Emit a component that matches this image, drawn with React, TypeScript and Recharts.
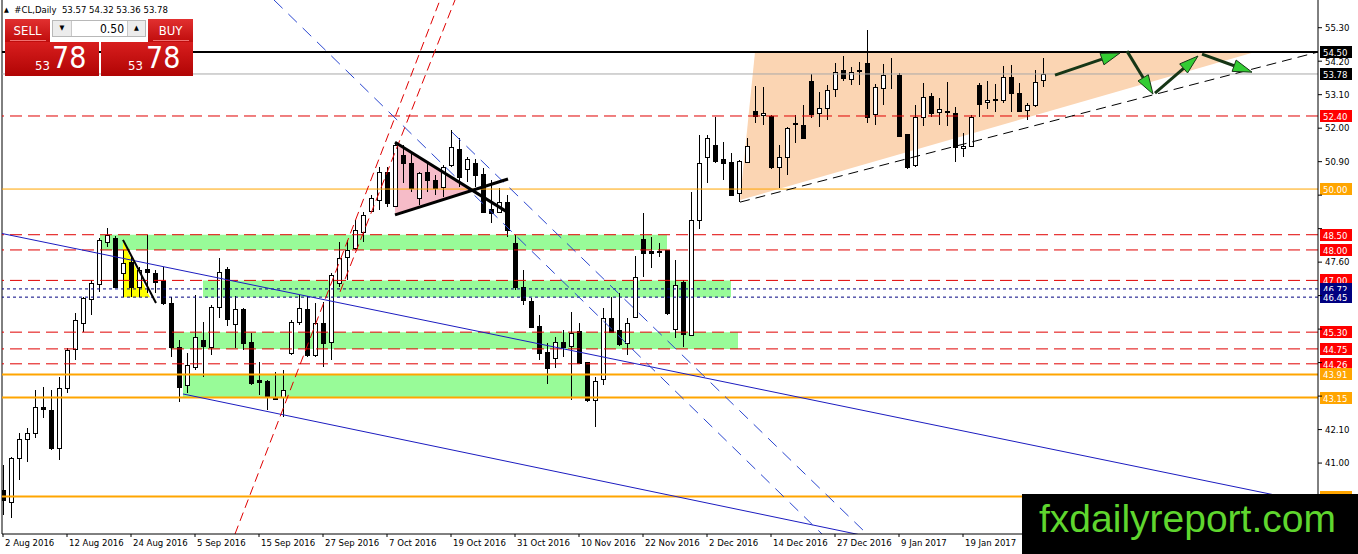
import React from "react";
import {
  ComposedChart,
  Bar,
  XAxis,
  YAxis,
  ReferenceLine,
  ReferenceArea,
} from "recharts";

const FONT = "'DejaVu Sans Condensed', 'Liberation Sans', sans-serif";
const AXIS_FS = 9.5;

// daily candles, 2 Aug 2016 .. 2 Feb 2017 (bar index = trading day)
const opens = [
  40.11, 39.72, 41.15, 41.79, 41.99, 42.84, 42.74, 41.49, 43.46, 44.75,
  45.6, 46.39, 46.88, 48.26, 48.39, 47.24, 47.6, 46.78, 47.37, 47.24,
  46.98, 46.26, 44.81, 43.56, 44.15, 45.04, 44.81, 46.13, 47.37, 45.57,
  46.06, 44.98, 43.73, 43.69, 43.1, 43.17, 44.61, 45.63, 46.06, 44.55,
  45.6, 44.98, 46.91, 47.77, 48.06, 48.59, 49.28, 49.64, 50.56, 49.44,
  51.12, 50.85, 49.7, 50.56, 50.3, 50.07, 50.79, 51.31, 50.66, 50.85,
  50.49, 49.34, 49.25, 49.57, 48.23, 46.78, 46.32, 45.5, 44.65, 44.45,
  44.98, 44.84, 45.34, 44.32, 43.07, 43.76, 45.76, 45.37, 44.94, 45.8,
  48.36, 47.96, 47.96, 48.0, 45.4, 46.95, 45.2, 48.98, 51.05, 51.44,
  50.99, 50.89, 49.87, 50.89, 52.56, 52.43, 52.4, 50.72, 51.05, 52.17,
  52.1, 53.55, 52.5, 52.66, 53.28, 53.91, 53.61, 53.87, 54.14, 52.46,
  53.32, 53.68, 53.74, 51.81, 50.79, 52.36, 53.05, 52.53, 52.53, 52.5,
  51.35, 51.41, 53.42, 52.86, 52.92, 52.92, 53.68, 53.15, 52.59, 52.76,
  53.57,
];
const highs = [
  40.94, 41.2, 41.99, 42.15, 43.4, 43.5, 43.4, 43.83, 44.78, 45.93,
  46.45, 47.01, 48.4, 48.72, 48.45, 48.0, 47.77, 47.44, 48.49, 47.34,
  47.44, 46.45, 45.04, 44.61, 46.52, 45.63, 46.19, 47.73, 47.45, 46.49,
  46.09, 45.27, 44.32, 43.73, 43.99, 44.06, 45.7, 46.52, 46.49, 46.26,
  46.29, 47.25, 48.26, 48.33, 48.98, 49.25, 49.8, 50.72, 50.72, 51.54,
  51.44, 51.18, 50.56, 50.89, 50.46, 50.79, 51.94, 51.67, 51.05, 50.99,
  50.69, 50.3, 50.03, 49.8, 48.49, 47.34, 46.42, 45.86, 44.94, 45.14,
  45.37, 45.96, 45.6, 44.32, 43.83, 46.09, 46.45, 46.58, 45.76, 47.8,
  49.21, 48.42, 48.23, 48.0, 47.67, 47.01, 49.9, 51.77, 51.77, 52.36,
  51.54, 51.18, 50.95, 51.67, 53.38, 53.35, 52.43, 51.44, 52.04, 52.43,
  52.76, 53.78, 53.19, 53.42, 54.14, 54.37, 54.01, 54.17, 55.22, 53.45,
  54.1, 54.3, 53.81, 51.81, 52.76, 53.48, 53.15, 52.99, 53.51, 52.69,
  51.84, 52.43, 53.48, 53.55, 53.45, 54.04, 54.07, 53.48, 52.82, 53.91,
  54.32,
];
const lows = [
  39.29, 39.2, 40.44, 41.04, 41.82, 42.48, 41.43, 41.1, 43.3, 44.38,
  45.3, 45.86, 46.62, 48.1, 46.75, 46.45, 46.45, 46.45, 46.58, 46.58,
  46.19, 44.48, 43.0, 43.3, 44.06, 43.83, 44.55, 45.76, 45.5, 44.78,
  44.71, 43.56, 43.23, 42.74, 43.1, 42.51, 44.55, 45.53, 44.48, 44.48,
  44.15, 44.38, 46.78, 47.01, 48.0, 48.26, 49.25, 49.31, 49.41, 49.41,
  50.2, 49.9, 49.47, 49.9, 49.8, 49.74, 50.72, 50.07, 50.23, 50.07,
  49.25, 48.88, 49.21, 48.42, 46.68, 46.19, 45.43, 44.38, 43.6, 44.12,
  44.48, 43.07, 44.29, 43.0, 42.18, 43.56, 45.27, 44.84, 44.55, 45.76,
  47.11, 47.41, 47.77, 45.86, 45.11, 44.81, 45.17, 48.7, 50.2, 50.85,
  50.3, 49.8, 49.57, 50.85, 52.17, 52.1, 50.66, 50.03, 50.46, 51.51,
  51.67, 52.33, 52.04, 52.27, 53.02, 53.55, 53.42, 53.42, 52.17, 52.1,
  52.76, 53.28, 51.71, 50.66, 50.72, 52.07, 52.36, 52.1, 52.07, 50.89,
  51.05, 51.38, 52.36, 52.63, 52.53, 52.82, 52.53, 52.53, 52.27, 52.69,
  53.36,
];
const closes = [
  39.79, 41.17, 41.79, 41.99, 42.84, 42.77, 41.49, 43.46, 44.71, 45.7,
  46.42, 46.91, 48.33, 48.49, 46.78, 47.57, 46.78, 47.34, 47.27, 46.95,
  46.26, 44.81, 43.5, 44.22, 45.14, 44.84, 46.13, 47.27, 45.73, 46.06,
  44.94, 43.63, 43.66, 43.2, 43.13, 43.4, 45.63, 46.09, 44.55, 45.6,
  44.94, 47.18, 47.73, 48.0, 48.65, 49.15, 49.7, 50.56, 49.54, 51.44,
  50.85, 50.03, 50.53, 50.3, 50.03, 50.72, 51.38, 50.39, 50.99, 50.46,
  49.25, 49.21, 49.57, 48.65, 46.78, 46.35, 45.47, 44.61, 44.12, 44.98,
  44.81, 45.27, 44.29, 43.07, 43.69, 45.76, 45.3, 44.91, 45.6, 47.11,
  47.9, 47.9, 47.93, 45.93, 46.85, 45.24, 48.98, 50.85, 51.67, 50.92,
  50.85, 49.8, 50.92, 51.41, 52.4, 52.5, 50.72, 51.05, 52.0, 52.14,
  51.67, 52.46, 52.66, 53.25, 53.84, 53.65, 53.84, 53.91, 52.36, 53.35,
  53.74, 53.68, 51.74, 50.72, 52.36, 53.02, 52.5, 52.63, 52.56, 51.38,
  51.41, 52.36, 52.79, 52.92, 52.95, 53.68, 53.15, 52.56, 52.76, 53.51,
  53.78,
];

const dateLabels = [
  "2 Aug 2016", "12 Aug 2016", "24 Aug 2016", "5 Sep 2016", "15 Sep 2016",
  "27 Sep 2016", "7 Oct 2016", "19 Oct 2016", "31 Oct 2016", "10 Nov 2016",
  "22 Nov 2016", "2 Dec 2016", "14 Dec 2016", "27 Dec 2016", "9 Jan 2017",
  "19 Jan 2017",
];
const dateTickBars = [0, 8, 16, 24, 32, 40, 48, 56, 64, 72, 80, 88, 96, 104, 112, 120];

const yTicks = [
  55.3, 54.2, 53.1, 52.0, 50.9, 49.8, 48.7, 47.6, 46.5, 45.4, 44.3, 43.2,
  42.1, 41.0, 39.9,
];

// horizontal levels
const resistanceLevel = 54.5;
const lastPrice = 53.78;
const redLevels = [52.4, 48.5, 48.0, 47.0, 45.3, 44.75, 44.26];
const orangeThinLevels = [50.0];
const navyLevels = [46.72, 46.45];
const orangeThickLevels = [43.91, 43.15, 39.9];
const allTagLevels = [
  resistanceLevel, lastPrice, ...redLevels, ...orangeThinLevels,
  ...navyLevels, ...orangeThickLevels,
];

// green zones: [fromBar, toBar] and [lowPrice, highPrice]
const zoneBars = [[12.125, 83], [25, 91], [20.875, 91.875], [22.5, 73.125]];
const zonePrices = [[48.0, 48.5], [46.45, 47.0], [44.75, 45.3], [43.15, 43.91]];

type Pt = [number, number];

// drawings, as [bar, price]
const channelUpper: Pt[] = [[-0.125, 48.54], [164.375, 39.66]];
const channelLower: Pt[] = [[22.5, 43.27], [112.125, 38.37]];
const blueDash1: Pt[] = [[33.875, 56.21], [102.375, 38.67]];
const blueDash2: Pt[] = [[56.125, 51.87], [108, 38.67]];
const redDash1: Pt[] = [[29, 38.67], [54.625, 56.21]];
const redDash2: Pt[] = [[42.125, 46.62], [56.5, 56.21]];
const supportLine: Pt[] = [[92.125, 49.57], [164.375, 54.5]];
const pennantUpper: Pt[] = [[49, 51.54], [63, 49.25]];
const pennantLower: Pt[] = [[49, 49.15], [63.125, 50.33]];
const yellowEdge: Pt[] = [[15, 48.33], [19.125, 46.26]];
const pinkTriangle: Pt[] = [[49, 51.54], [49, 49.15], [58.64, 49.96]];
const yellowTriangle: Pt[] = [[15, 48.26], [15, 46.45], [18.375, 46.45]];
const peachTriangle: Pt[] = [[94, 54.5], [92.125, 49.64], [156.5, 54.5]];
const arrows: Pt[][] = [
  [[131.5, 53.74], [139.625, 54.47]],
  [[140.5, 54.53], [143.75, 53.12]],
  [[144, 53.15], [149.375, 54.37]],
  [[149.875, 54.43], [156.125, 53.84]],
];

const rows = opens.map((o, i) => ({
  i,
  o,
  h: highs[i],
  l: lows[i],
  c: closes[i],
  range: [lows[i], highs[i]],
}));

function Candle(props: any) {
  const { x, y, width, height, payload } = props;
  if (x == null || !payload) return null;
  const cx = Math.round(x + width / 2);
  const top = Math.min(y, y + height);
  const bot = Math.max(y, y + height);
  const { o, h, l, c } = payload;
  const k = h - l > 0 ? (bot - top) / (h - l) : 0;
  const yOf = (p: number) => top + (h - p) * k;
  const bTop = Math.round(yOf(Math.max(o, c)));
  const bBot = Math.round(yOf(Math.min(o, c)));
  const bull = c >= o;
  return (
    <g shapeRendering="crispEdges">
      <line x1={cx + 0.5} x2={cx + 0.5} y1={top} y2={bot} stroke="#000" />
      <rect
        x={cx - 1.5}
        y={bTop + 0.5}
        width={4}
        height={Math.max(bBot - bTop, 0)}
        fill={bull ? "#fff" : "#000"}
        stroke="#000"
      />
    </g>
  );
}

function PriceTag(props: any) {
  const { viewBox, text, bg } = props;
  if (!viewBox) return null;
  const x = viewBox.x + viewBox.width + 2;
  const y = Math.round(viewBox.y);
  return (
    <g>
      <rect x={x} y={y - 6} width={32} height={12} fill={bg} />
      {text ? (
        <text x={x + 3} y={y + 3.5} fill="#fff" fontSize={AXIS_FS} fontFamily={FONT}>
          {text}
        </text>
      ) : null}
    </g>
  );
}

function PriceTick(props: any) {
  const { x, y, payload } = props;
  const v = payload.value as number;
  // labels sitting under a coloured price tag are hidden by it
  if (allTagLevels.some((t) => Math.abs(t - v) < 0.25)) return null;
  return (
    <text x={x} y={y} dy="0.35em" fontSize={AXIS_FS} fill="#000" fontFamily={FONT} textAnchor="start">
      {v.toFixed(2)}
    </text>
  );
}

function DateTick(props: any) {
  const { x, y, payload } = props;
  const idx = dateTickBars.indexOf(payload.value);
  return (
    <text x={x + 2} y={y} dy="0.71em" fontSize={AXIS_FS} fill="#000" fontFamily={FONT} textAnchor="start">
      {dateLabels[idx]}
    </text>
  );
}

function polygonArea(verts: Pt[], fill: string, key: string) {
  const xs = verts.map((v) => v[0]);
  const ys = verts.map((v) => v[1]);
  const x1 = Math.min(...xs);
  const x2 = Math.max(...xs);
  const y1 = Math.min(...ys);
  const y2 = Math.max(...ys);
  const shape = (p: any) => {
    const pts = verts
      .map(([vx, vy]) => {
        const px = p.x + ((vx - x1) / (x2 - x1)) * p.width;
        const py = p.y + ((y2 - vy) / (y2 - y1)) * p.height;
        return `${px},${py}`;
      })
      .join(" ");
    return <polygon points={pts} fill={fill} stroke="none" />;
  };
  return (
    <ReferenceArea key={key} x1={x1} x2={x2} y1={y1} y2={y2} shape={shape} ifOverflow="visible" />
  );
}

function seg(pts: Pt[], stroke: string, width: number, dash: string | undefined, key: string) {
  return (
    <ReferenceLine
      key={key}
      segment={[
        { x: pts[0][0], y: pts[0][1] },
        { x: pts[1][0], y: pts[1][1] },
      ]}
      stroke={stroke}
      strokeWidth={width}
      strokeDasharray={dash}
      ifOverflow="hidden"
    />
  );
}

const arrowShape = (p: any) => {
  const { x1, y1, x2, y2 } = p;
  const dx = x2 - x1;
  const dy = y2 - y1;
  const len = Math.hypot(dx, dy) || 1;
  const ux = dx / len;
  const uy = dy / len;
  const hl = 19;
  const hw = 6;
  const bx = x2 - ux * hl;
  const by = y2 - uy * hl;
  const pts = `${x2},${y2} ${bx - uy * hw},${by + ux * hw} ${bx + uy * hw},${by - ux * hw}`;
  return (
    <g>
      <line x1={x1} y1={y1} x2={bx} y2={by} stroke="#163616" strokeWidth={3} />
      <polygon points={pts} fill="#33cc33" stroke="#163616" strokeWidth={1} />
    </g>
  );
};

function Panel() {
  const red = "linear-gradient(#e23030, #bf0c0c)";
  const big = "linear-gradient(#d81e1e, #b00404)";
  return (
    <div style={{ position: "absolute", left: 0, top: 0, fontFamily: FONT, color: "#000" }}>
      <div style={{ position: "absolute", left: 4, top: 4, fontSize: AXIS_FS, whiteSpace: "pre", lineHeight: "12px" }}>
        <span style={{ fontSize: 7, verticalAlign: "1px" }}>▲</span>
        {"  #CL,Daily  53.57 54.32 53.36 53.78"}
      </div>
      <div style={{ position: "absolute", left: 5, top: 19, width: 45, height: 23, background: red }}>
        <div style={{ position: "absolute", left: 0, width: 45, top: 4, textAlign: "center", color: "#fff", fontSize: 13 }}>SELL</div>
        <div style={{ position: "absolute", left: 5, width: 36, top: 21, height: 1, background: "#f07070" }} />
      </div>
      <div style={{ position: "absolute", left: 148, top: 19, width: 45, height: 23, background: red }}>
        <div style={{ position: "absolute", left: 0, width: 45, top: 4, textAlign: "center", color: "#fff", fontSize: 13 }}>BUY</div>
        <div style={{ position: "absolute", left: 5, width: 36, top: 21, height: 1, background: "#f07070" }} />
      </div>
      <div style={{ position: "absolute", left: 52, top: 20, width: 94, height: 17, border: "1px solid #b8b8b8", background: "#fff", boxSizing: "border-box" }}>
        <div style={{ position: "absolute", left: 0, top: 0, width: 18, height: 15, background: "#ececec", borderRight: "1px solid #c8c8c8", fontSize: 7, textAlign: "center", lineHeight: "15px" }}>▼</div>
        <div style={{ position: "absolute", right: 0, top: 0, width: 17, height: 15, background: "#ececec", borderLeft: "1px solid #c8c8c8", fontSize: 7, textAlign: "center", lineHeight: "15px" }}>▲</div>
        <div style={{ position: "absolute", right: 21, top: 1, fontSize: 12, lineHeight: "14px" }}>0.50</div>
      </div>
      <div style={{ position: "absolute", left: 5, top: 42, width: 94, height: 34, background: big, color: "#fff" }}>
        <span style={{ position: "absolute", left: 30, top: 17, fontSize: 13, lineHeight: "13px" }}>53</span>
        <span style={{ position: "absolute", left: 47, top: 0, fontSize: 30, lineHeight: "32px" }}>78</span>
      </div>
      <div style={{ position: "absolute", left: 101, top: 42, width: 92, height: 34, background: big, color: "#fff" }}>
        <span style={{ position: "absolute", left: 27, top: 17, fontSize: 13, lineHeight: "13px" }}>53</span>
        <span style={{ position: "absolute", left: 45, top: 0, fontSize: 30, lineHeight: "32px" }}>78</span>
      </div>
      <div style={{ position: "absolute", left: 1022, top: 494, width: 336, height: 60, background: "#000", overflow: "hidden" }}>
        <span style={{ position: "absolute", left: 17, top: 5, fontSize: 39, lineHeight: "39px", color: "#5fd62e", fontFamily: "'Liberation Sans', Arial, sans-serif", whiteSpace: "nowrap" }}>
          fxdailyreport.com
        </span>
      </div>
    </div>
  );
}

export default function App() {
  return (
    <div style={{ position: "absolute", left: 0, top: 0, width: 1358, height: 554, background: "#fff", fontFamily: FONT }}>
      <ComposedChart
        width={1358}
        height={554}
        data={rows}
        margin={{ top: 0, right: 0, bottom: 0, left: 2 }}
      >
        <XAxis
          dataKey="i"
          type="number"
          domain={[-0.125, 164.375]}
          allowDataOverflow
          ticks={dateTickBars}
          tick={<DateTick />}
          tickSize={3}
          tickMargin={2}
          height={20}
          stroke="#000"
          interval={0}
        />
        <YAxis
          orientation="right"
          type="number"
          domain={[38.67, 56.21]}
          allowDataOverflow
          ticks={yTicks}
          width={40}
          tickSize={4}
          tickMargin={3}
          tick={<PriceTick />}
          stroke="#000"
          interval={0}
        />

        {zoneBars.map((b, k) => (
          <ReferenceArea
            key={"z" + k}
            x1={b[0]}
            x2={b[1]}
            y1={zonePrices[k][0]}
            y2={zonePrices[k][1]}
            fill="#98fb98"
            fillOpacity={1}
            stroke="none"
            ifOverflow="visible"
          />
        ))}
        {polygonArea(peachTriangle, "#fbd5b3", "peach")}
        {polygonArea(pinkTriangle, "#f6bcc8", "pink")}
        {polygonArea(yellowTriangle, "#ffff00", "yellow")}

        <ReferenceLine x={-0.125} stroke="#000" />
        <ReferenceLine
          y={resistanceLevel}
          stroke="#000"
          strokeWidth={2}
          label={<PriceTag text={resistanceLevel.toFixed(2)} bg="#000" />}
        />
        <ReferenceLine
          y={lastPrice}
          stroke="#a8a8a8"
          label={<PriceTag text={lastPrice.toFixed(2)} bg="#000" />}
        />
        {redLevels.map((v) => (
          <ReferenceLine
            key={"r" + v}
            y={v}
            stroke="#e00000"
            strokeDasharray="12 6"
            label={<PriceTag text={v.toFixed(2)} bg="#ff0000" />}
          />
        ))}
        {orangeThinLevels.map((v) => (
          <ReferenceLine
            key={"o" + v}
            y={v}
            stroke="#ffa500"
            label={<PriceTag text={v.toFixed(2)} bg="#ffa500" />}
          />
        ))}
        {navyLevels.map((v) => (
          <ReferenceLine
            key={"n" + v}
            y={v}
            stroke="#000080"
            strokeDasharray="3 3"
            label={<PriceTag text={v.toFixed(2)} bg="#000080" />}
          />
        ))}
        {orangeThickLevels.map((v, k) => (
          <ReferenceLine
            key={"ot" + v}
            y={v}
            stroke="#ffa500"
            strokeWidth={2}
            // the lowest tag sits under the logo, only its box edge shows
            label={<PriceTag text={k < 2 ? v.toFixed(2) : ""} bg="#ffa500" />}
          />
        ))}

        <Bar dataKey="range" barSize={5} shape={Candle} isAnimationActive={false} />

        {seg(channelUpper, "#1c1cc0", 1, undefined, "cu")}
        {seg(channelLower, "#1c1cc0", 1, undefined, "cl")}
        {seg(blueDash1, "#2a46d0", 1, "12 8", "bd1")}
        {seg(blueDash2, "#2a46d0", 1, "12 8", "bd2")}
        {seg(redDash1, "#e00000", 1, "9 5", "rd1")}
        {seg(redDash2, "#e00000", 1, "9 5", "rd2")}
        {seg(supportLine, "#000", 1, "10 6", "sup")}
        {seg(pennantUpper, "#000", 3, undefined, "pu")}
        {seg(pennantLower, "#000", 3, undefined, "pl")}
        {seg(yellowEdge, "#000", 2, undefined, "ye")}
        {arrows.map((a, k) => (
          <ReferenceLine
            key={"a" + k}
            segment={[
              { x: a[0][0], y: a[0][1] },
              { x: a[1][0], y: a[1][1] },
            ]}
            shape={arrowShape}
            ifOverflow="visible"
          />
        ))}
      </ComposedChart>
      <Panel />
    </div>
  );
}
